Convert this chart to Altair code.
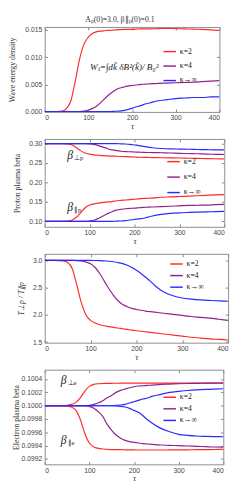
import altair as alt
import pandas as pd

tau = [0, 20, 40, 50, 60, 70, 80, 90, 100, 110, 120, 130, 140, 150, 160, 170, 180, 190,
       200, 210, 220, 230, 240, 260, 280, 300, 320, 340, 360, 380, 400]

kappas = ["κ=2", "κ=4", "κ→∞"]
colors = ["#ff2a2a", "#8e238e", "#2a2aff"]
x_ticks = [0, 100, 200, 300, 400]

# Panel 1: wave energy density
W_k2 = [0, 0, 0.0001, 0.0006, 0.0020, 0.0056, 0.0097, 0.0124, 0.0137, 0.0144, 0.0147, 0.0148,
        0.0149, 0.01495, 0.0150, 0.01505, 0.0151, 0.0151, 0.01512, 0.01515, 0.0152, 0.0152,
        0.0152, 0.01525, 0.0153, 0.01525, 0.0152, 0.01515, 0.0151, 0.01502, 0.0149]
W_k4 = [0, 0, 0, 0, 0, 0, 0.00002, 0.0001, 0.0003, 0.0006, 0.0011, 0.0018, 0.0026, 0.0033,
        0.0039, 0.0043, 0.0045, 0.0047, 0.0048, 0.0049, 0.0050, 0.00505, 0.0051, 0.0052,
        0.00525, 0.0053, 0.00535, 0.0054, 0.0055, 0.0056, 0.0057]
W_inf = [0, 0, 0, 0, 0, 0, 0, 0, 0, 0, 0, 0, 0, 0.00003, 0.00006, 0.0001, 0.0002, 0.0004,
         0.0006, 0.0009, 0.0011, 0.0014, 0.0016, 0.0020, 0.0022, 0.0024, 0.0025, 0.0026,
         0.0026, 0.0027, 0.0027]

# Panel 2: proton plasma beta
Pperp_k2 = [0.300, 0.300, 0.300, 0.2995, 0.297, 0.290, 0.282, 0.276, 0.273, 0.271, 0.270,
            0.269, 0.2685, 0.268, 0.2675, 0.267, 0.2665, 0.266, 0.2655, 0.265, 0.2648, 0.2645,
            0.2642, 0.2637, 0.2633, 0.263, 0.2625, 0.262, 0.2615, 0.261, 0.2605]
Pperp_k4 = [0.300, 0.300, 0.300, 0.300, 0.300, 0.300, 0.300, 0.300, 0.2995, 0.298, 0.295,
            0.291, 0.287, 0.284, 0.282, 0.2805, 0.2795, 0.279, 0.2785, 0.278, 0.2775, 0.2772,
            0.277, 0.2765, 0.276, 0.275, 0.2745, 0.274, 0.273, 0.2725, 0.272]
Pperp_inf = [0.300, 0.300, 0.300, 0.300, 0.300, 0.300, 0.300, 0.300, 0.300, 0.300, 0.300,
             0.300, 0.300, 0.300, 0.300, 0.2995, 0.299, 0.298, 0.2965, 0.295, 0.293, 0.291,
             0.2895, 0.2875, 0.2865, 0.286, 0.2855, 0.285, 0.2845, 0.284, 0.2838]
Ppar_k2 = [0.100, 0.100, 0.100, 0.1005, 0.103, 0.110, 0.122, 0.135, 0.142, 0.145, 0.147,
           0.149, 0.150, 0.151, 0.153, 0.154, 0.155, 0.156, 0.157, 0.158, 0.159, 0.1595,
           0.160, 0.162, 0.163, 0.164, 0.165, 0.166, 0.167, 0.168, 0.1687]
Ppar_k4 = [0.100, 0.100, 0.100, 0.100, 0.100, 0.100, 0.100, 0.100, 0.101, 0.103, 0.108,
           0.114, 0.120, 0.125, 0.129, 0.131, 0.1325, 0.1335, 0.134, 0.135, 0.136, 0.1365,
           0.137, 0.138, 0.139, 0.140, 0.141, 0.1415, 0.142, 0.143, 0.1437]
Ppar_inf = [0.100, 0.100, 0.100, 0.100, 0.100, 0.100, 0.100, 0.100, 0.100, 0.100, 0.100,
            0.100, 0.100, 0.100, 0.1005, 0.101, 0.102, 0.1035, 0.105, 0.1065, 0.108, 0.111,
            0.114, 0.118, 0.1205, 0.122, 0.123, 0.1238, 0.1245, 0.125, 0.1257]

# Panel 3: temperature anisotropy
T_k2 = [3.0, 3.0, 2.99, 2.96, 2.85, 2.55, 2.22, 2.00, 1.90, 1.85, 1.82, 1.80, 1.785, 1.77,
        1.76, 1.745, 1.735, 1.72, 1.71, 1.70, 1.69, 1.68, 1.67, 1.65, 1.63, 1.61, 1.59,
        1.575, 1.56, 1.55, 1.54]
T_k4 = [3.0, 3.0, 3.0, 3.0, 3.0, 2.997, 2.99, 2.97, 2.94, 2.87, 2.76, 2.62, 2.48, 2.36,
        2.26, 2.19, 2.15, 2.12, 2.10, 2.085, 2.07, 2.06, 2.05, 2.03, 2.01, 1.99, 1.97,
        1.955, 1.94, 1.92, 1.90]
T_inf = [3.0, 3.0, 3.0, 3.0, 3.0, 3.0, 3.0, 3.0, 3.0, 2.998, 2.995, 2.99, 2.985, 2.975,
         2.96, 2.94, 2.91, 2.87, 2.82, 2.76, 2.69, 2.62, 2.54, 2.42, 2.35, 2.31, 2.29,
         2.275, 2.265, 2.257, 2.25]

# Panel 4: electron plasma beta
Eperp_k2 = [0.1, 0.1, 0.1, 0.100005, 0.10002, 0.10005, 0.10012, 0.10022, 0.10029, 0.10032,
            0.10033, 0.100333, 0.100335, 0.100336, 0.100337, 0.100338, 0.100339, 0.10034,
            0.10034, 0.10034, 0.10034, 0.10034, 0.10034, 0.10034, 0.10034, 0.10034,
            0.10034, 0.10034, 0.10034, 0.10034, 0.10034]
Eperp_k4 = [0.1, 0.1, 0.1, 0.1, 0.1, 0.1, 0.1, 0.1, 0.100005, 0.10002, 0.10004, 0.100075,
            0.10012, 0.100155, 0.10020, 0.10023, 0.10025, 0.10027, 0.100285, 0.100295,
            0.1003, 0.100305, 0.10031, 0.10032, 0.100325, 0.10033, 0.100333, 0.100336,
            0.100338, 0.10034, 0.100342]
Eperp_inf = [0.1, 0.1, 0.1, 0.1, 0.1, 0.1, 0.1, 0.1, 0.1, 0.1, 0.1, 0.1, 0.1, 0.1,
             0.100005, 0.10001, 0.10002, 0.10004, 0.10006, 0.10008, 0.1001, 0.100115,
             0.10014, 0.10017, 0.1002, 0.100215, 0.100228, 0.100237, 0.100244, 0.10025,
             0.100254]
Epar_k2 = [0.1, 0.1, 0.1, 0.099995, 0.09998, 0.09993, 0.09979, 0.09958, 0.09944, 0.09938,
           0.09936, 0.09935, 0.099345, 0.09934, 0.09934, 0.09934, 0.099338, 0.099337,
           0.099336, 0.099335, 0.099335, 0.099335, 0.099335, 0.099335, 0.099336, 0.099337,
           0.099338, 0.09934, 0.099341, 0.099343, 0.099345]
Epar_k4 = [0.1, 0.1, 0.1, 0.1, 0.1, 0.1, 0.1, 0.1, 0.09999, 0.09996, 0.09991, 0.09984,
           0.09972, 0.09963, 0.09956, 0.09951, 0.09948, 0.09946, 0.09945, 0.09944, 0.09943,
           0.099425, 0.09942, 0.09941, 0.099405, 0.0994, 0.099395, 0.09939, 0.099385,
           0.09938, 0.099378]
Epar_inf = [0.1, 0.1, 0.1, 0.1, 0.1, 0.1, 0.1, 0.1, 0.1, 0.1, 0.1, 0.1, 0.1, 0.1,
            0.099995, 0.09999, 0.09998, 0.09996, 0.09993, 0.0999, 0.09985, 0.09979,
            0.09974, 0.09966, 0.09961, 0.09957, 0.099555, 0.099545, 0.09954, 0.099537,
            0.099534]

# Annotations
wave_formula = "Wₜ=∫dk̃  δB²(k̃)/ B₀²"
p_ann_tau = [50, 50]
p_ann_val = [0.271, 0.137]
p_ann_sub = ["⊥p", "∥p"]
e_ann_tau = [36, 36]
e_ann_val = [0.10039, 0.09948]
e_ann_sub = ["⊥e", "∥e"]

SERIF = "Liberation Serif"
SANS = "Liberation Sans"
TICK = "#8a8a8a"


def long_df(series):
    rows = []
    for (kappa, branch, vals) in series:
        for t, v in zip(tau, vals):
            rows.append({"tau": t, "value": v, "kappa": kappa, "branch": branch})
    return pd.DataFrame(rows)


class Panel:
    def __init__(self, ytitle, ydomain, yvalues, yformat, extent, tpad, ytitle_style="normal"):
        self.xs = alt.Scale(domain=[0, 400], nice=False)
        self.ys = alt.Scale(domain=ydomain, nice=False, zero=False)
        self.x = alt.X("tau:Q", scale=self.xs,
                       axis=alt.Axis(orient="bottom", values=x_ticks, title="τ",
                                     titleFontStyle="italic", titleFontSize=9, offset=-3,
                                     tickSize=3, tickColor=TICK, labelPadding=2, titlePadding=1,
                                     labelFlush=True, labelOverlap=False))
        self.y = alt.Y("value:Q", scale=self.ys,
                       axis=alt.Axis(orient="left", values=yvalues, format=yformat,
                                     title=ytitle, offset=-3, tickSize=3, tickColor=TICK,
                                     labelPadding=3, minExtent=extent, maxExtent=extent,
                                     titlePadding=tpad, titleFontStyle=ytitle_style,
                                     labelOverlap=False))
        self.xn = alt.X("tau:Q", scale=self.xs, axis=None)
        self.yn = alt.Y("value:Q", scale=self.ys, axis=None)
        self.yvalues = yvalues

    def lines(self, df, lx, ly, rowpad):
        color = alt.Color("kappa:N", scale=alt.Scale(domain=kappas, range=colors),
                          legend=alt.Legend(orient="none", legendX=lx, legendY=ly, title=None,
                                            symbolType="stroke", symbolStrokeWidth=1.5,
                                            symbolSize=169, labelFont=SERIF, labelFontSize=8,
                                            labelColor="#222", rowPadding=rowpad, padding=0,
                                            labelOffset=3))
        return alt.Chart(df).mark_line(strokeWidth=1.2, interpolate="monotone",
                                       clip=True).encode(x=self.x, y=self.y, color=color,
                                                         detail="branch:N")

    def frame_ticks(self, df):
        return alt.Chart(df).mark_point(opacity=0).encode(
            x=alt.X("tau:Q", scale=self.xs,
                    axis=alt.Axis(orient="top", values=x_ticks, offset=-3, tickSize=3,
                                  tickColor=TICK, labels=False, domain=False, title=None)),
            y=alt.Y("value:Q", scale=self.ys,
                    axis=alt.Axis(orient="right", values=self.yvalues, offset=-3, tickSize=3,
                                  tickColor=TICK, labels=False, domain=False, title=None)))

    def betas(self, ann):
        b = alt.Chart(ann).mark_text(font=SERIF, fontSize=12, fontStyle="italic", color="#222",
                                     align="left", baseline="middle").encode(
            x=self.xn, y=self.yn, text="b:N")
        s = alt.Chart(ann).mark_text(font=SERIF, fontSize=7, color="#222", align="left",
                                     baseline="middle", dx=7, dy=3).encode(
            x=self.xn, y=self.yn, text="sub:N")
        return [b, s]


df1 = long_df([("κ=2", "a", W_k2), ("κ=4", "a", W_k4), ("κ→∞", "a", W_inf)])
df2 = long_df([("κ=2", "perp", Pperp_k2), ("κ=4", "perp", Pperp_k4), ("κ→∞", "perp", Pperp_inf),
               ("κ=2", "par", Ppar_k2), ("κ=4", "par", Ppar_k4), ("κ→∞", "par", Ppar_inf)])
df3 = long_df([("κ=2", "a", T_k2), ("κ=4", "a", T_k4), ("κ→∞", "a", T_inf)])
df4 = long_df([("κ=2", "perp", Eperp_k2), ("κ=4", "perp", Eperp_k4), ("κ→∞", "perp", Eperp_inf),
               ("κ=2", "par", Epar_k2), ("κ=4", "par", Epar_k4), ("κ→∞", "par", Epar_inf)])

P1 = Panel("Wave energy density", [-0.00005, 0.01555], [0, 0.005, 0.010, 0.015], ".3f", 30, 2)
t1 = alt.Chart(pd.DataFrame({"tau": [182], "value": [0.0082], "label": [wave_formula]})).mark_text(
    font=SERIF, fontSize=9.5, fontStyle="italic", color="#222", align="center", baseline="middle"
).encode(x=P1.xn, y=P1.yn, text="label:N")
p1 = alt.layer(P1.lines(df1, 122, 18, 3), t1, P1.frame_ticks(df1)).properties(
    width=181, height=88)

P2 = Panel("Proton plasma beta", [0.086, 0.312], [0.10, 0.15, 0.20, 0.25, 0.30], ".2f", 25, 2)
pa = pd.DataFrame({"tau": p_ann_tau, "value": p_ann_val, "sub": p_ann_sub, "b": ["β", "β"]})
p2 = alt.layer(P2.lines(df2, 126, 16, 4), *P2.betas(pa), P2.frame_ticks(df2)).properties(
    width=186, height=91)

P3 = Panel("T⊥p / T∥p", [1.49, 3.12], [1.5, 2.0, 2.5, 3.0], ".1f", 21, 2, ytitle_style="italic")
p3 = alt.layer(P3.lines(df3, 129, 3, -3), P3.frame_ticks(df3)).properties(width=190, height=92)

P4 = Panel("Electron plasma beta", [0.09912, 0.10054],
           [0.0992, 0.0994, 0.0996, 0.0998, 0.1000, 0.1002, 0.1004], ".4f", 27, 1)
ea = pd.DataFrame({"tau": e_ann_tau, "value": e_ann_val, "sub": e_ann_sub, "b": ["β", "β"]})
p4 = alt.layer(P4.lines(df4, 122, 21, -1.5), *P4.betas(ea), P4.frame_ticks(df4)).properties(
    width=185, height=98)

chart = alt.vconcat(p1, p2, p3, p4, spacing=7).resolve_scale(
    color="independent", x="independent", y="independent"
).resolve_legend(color="independent").properties(
    padding=0,
    title=alt.TitleParams("Aₚ(0)=3.0, β∥ₚ(0)=0.1", font=SERIF, fontSize=8, fontWeight="normal",
                          color="#333", anchor="middle", offset=1)
).configure_view(stroke="#8c8c8c", strokeWidth=1).configure_axis(
    labelFont=SANS, labelFontSize=7, labelColor="#444", domain=False, grid=False,
    titleFont=SERIF, titleFontWeight="normal", titleFontSize=8, titleColor="#333"
)

chart.save("out.html", embed_options={"renderer": "svg", "actions": False})
